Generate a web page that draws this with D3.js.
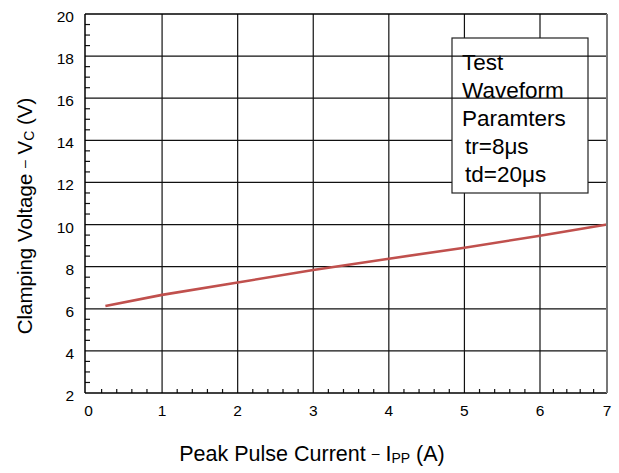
<!DOCTYPE html>
<html>
<head>
<meta charset="utf-8">
<script src="https://cdn.jsdelivr.net/npm/d3@7"></script>
<style>
  body { margin: 0; background: #fff; }
  text { font-family: "Liberation Sans", Arial, sans-serif; fill: #000; }
</style>
</head>
<body>
<svg id="chart" width="619" height="473"></svg>
<script>
// data
var currentA = [0.25, 1, 2, 3, 4, 5, 6, 7];
var clampV   = [6.13, 6.66, 7.25, 7.84, 8.38, 8.90, 9.47, 10.0];
var xTicks = [0, 1, 2, 3, 4, 5, 6, 7];
var yTicks = [2, 4, 6, 8, 10, 12, 14, 16, 18, 20];
var boxLines = ["Test", "Waveform", "Paramters", "tr=8\u03bcs", "td=20\u03bcs"];

var svg = d3.select('#chart');

var margin = { top: 14, left: 85, bottom: 80, right: 12 };
var width = 619, height = 473;
var right = width - margin.right, bottom = height - margin.bottom;

// the last unit of the x axis is squeezed in the original
var x = d3.scaleLinear().domain([0, 6, 7]).range([86.5, 540, right]);
var y = d3.scaleLinear().domain([2, 20]).range([bottom, margin.top]);

var grid = svg.append("g");

// vertical grid
grid.selectAll("line.vg")
    .data(xTicks.slice(1, -1))
    .enter().append("line")
    .attr("x1", function (d) { return x(d); })
    .attr("x2", function (d) { return x(d); })
    .attr("y1", margin.top).attr("y2", bottom)
    .attr("stroke", "#111").attr("stroke-width", 1.2);

// horizontal grid (lower part, under the box)
grid.selectAll("line.hg")
    .data(yTicks.filter(function (d) { return d > 2 && d < 16; }))
    .enter().append("line")
    .attr("x1", margin.left).attr("x2", right)
    .attr("y1", function (d) { return y(d); })
    .attr("y2", function (d) { return y(d); })
    .attr("stroke", "#111").attr("stroke-width", 1.3);

// minor ticks
var xMinor = d3.range(0, 35).map(function (i) { return i / 5; }).filter(function (d) { return d % 1 !== 0; });
svg.append("g").selectAll("line")
    .data(xMinor)
    .enter().append("line")
    .attr("x1", function (d) { return x(d); })
    .attr("x2", function (d) { return x(d); })
    .attr("y1", bottom).attr("y2", bottom - 4)
    .attr("stroke", "#111").attr("stroke-width", 1.2);

var yMinor = d3.range(4, 40).map(function (i) { return i / 2; }).filter(function (d) { return d % 2 !== 0; });
svg.append("g").selectAll("line")
    .data(yMinor)
    .enter().append("line")
    .attr("x1", margin.left).attr("x2", margin.left + 5)
    .attr("y1", function (d) { return y(d); })
    .attr("y2", function (d) { return y(d); })
    .attr("stroke", "#111").attr("stroke-width", 1.2);

// legend box
var bx = 452, by = 38, bw = 136, bh = 155;
svg.append("rect")
    .attr("x", bx).attr("y", by).attr("width", bw).attr("height", bh)
    .attr("fill", "#fff").attr("stroke", "#222").attr("stroke-width", 1.2);

svg.selectAll("text.box")
    .data(boxLines)
    .enter().append("text")
    .attr("x", function (d, i) { return i < 3 ? 462 : 465; })
    .attr("y", function (d, i) { return 70 + i * 28; })
    .style("font-size", "22.5px")
    .text(function (d) { return d; });

// upper horizontal grid drawn over the box
grid = svg.append("g");
grid.selectAll("line")
    .data([16, 18])
    .enter().append("line")
    .attr("x1", margin.left).attr("x2", right)
    .attr("y1", function (d) { return y(d); })
    .attr("y2", function (d) { return y(d); })
    .attr("stroke", "#111").attr("stroke-width", 1.3);

// data line
var line = d3.line()
    .x(function (d) { return x(d[0]); })
    .y(function (d) { return y(d[1]); });

svg.append("path")
    .datum(currentA.map(function (d, i) { return [d, clampV[i]]; }))
    .attr("d", line)
    .attr("fill", "none")
    .attr("stroke", "#c0504d")
    .attr("stroke-width", 2.6);

// frame
svg.append("line").attr("x1", margin.left).attr("x2", right).attr("y1", margin.top).attr("y2", margin.top)
    .attr("stroke", "#000").attr("stroke-width", 1.5);
svg.append("line").attr("x1", margin.left).attr("x2", right).attr("y1", bottom).attr("y2", bottom)
    .attr("stroke", "#000").attr("stroke-width", 1.5);
svg.append("line").attr("x1", margin.left).attr("x2", margin.left).attr("y1", margin.top).attr("y2", bottom)
    .attr("stroke", "#000").attr("stroke-width", 1.5);
svg.append("line").attr("x1", right).attr("x2", right).attr("y1", margin.top).attr("y2", bottom)
    .attr("stroke", "#777").attr("stroke-width", 2);

// tick labels
svg.append("g").selectAll("text")
    .data(xTicks)
    .enter().append("text")
    .attr("x", function (d) { return d === 0 ? x(d) + 2 : x(d); })
    .attr("y", bottom + 23)
    .style("text-anchor", "middle")
    .style("font-size", "15.5px")
    .text(function (d) { return d; });

svg.append("g").selectAll("text")
    .data(yTicks)
    .enter().append("text")
    .attr("x", 74)
    .attr("y", function (d) { return y(d) + 8; })
    .style("text-anchor", "end")
    .style("font-size", "15.5px")
    .text(function (d) { return d; });

// axis titles
var xt = svg.append("text")
    .attr("transform", "translate(" + 312 + " ," + 461 + ")")
    .style("text-anchor", "middle")
    .style("font-size", "21.5px");
xt.append("tspan").text("Peak Pulse Current ");
xt.append("tspan").style("font-size", "14px").attr("dy", -3).text("\u2013");
xt.append("tspan").attr("dy", 3).text(" I");
xt.append("tspan").style("font-size", "14px").attr("dy", 2).text("PP");
xt.append("tspan").attr("dy", -2).text(" (A)");

var yt = svg.append("text")
    .attr("transform", "translate(" + 32 + " ," + 216 + "), rotate(-90)")
    .style("text-anchor", "middle")
    .style("font-size", "20.5px");
yt.append("tspan").text("Clamping Voltage ");
yt.append("tspan").style("font-size", "14px").attr("dy", -3).text("\u2013");
yt.append("tspan").attr("dy", 3).text(" V");
yt.append("tspan").style("font-size", "14px").attr("dy", 2).text("C");
yt.append("tspan").attr("dy", -2).text(" (V)");
</script>
</body>
</html>
